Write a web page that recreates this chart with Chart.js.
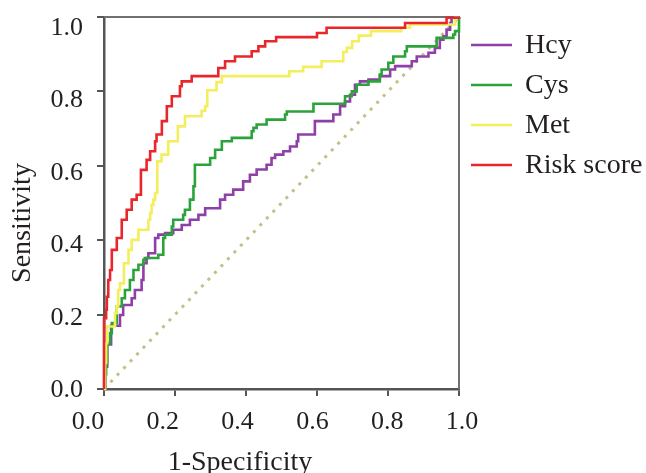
<!DOCTYPE html>
<html>
<head>
<meta charset="utf-8">
<script src="https://cdn.jsdelivr.net/npm/chart.js@4.4.0/dist/chart.umd.min.js"></script>
<style>
  html, body { margin: 0; padding: 0; background: #fff; }
  #wrap { position: relative; width: 646px; height: 473px; }
</style>
</head>
<body>
<div id="wrap"><canvas id="rocChart"></canvas></div>
<script>
// tick values / labels for both axes
var tickValues = [0, 0.2, 0.4, 0.6, 0.8, 1.0];
var tickLabels = ['0.0', '0.2', '0.4', '0.6', '0.8', '1.0'];
var seriesNames = ['Hcy', 'Cys', 'Met', 'Risk score'];

// 1-Specificity (x) and Sensitivity (y)
var hcyX = [0, 0.004, 0.009, 0.02, 0.045, 0.054, 0.078, 0.087, 0.106, 0.111, 0.12, 0.125, 0.144, 0.153, 0.172, 0.195, 0.219, 0.242, 0.266, 0.285, 0.327, 0.341, 0.364, 0.392, 0.411, 0.43, 0.458, 0.472, 0.482, 0.505, 0.524, 0.543, 0.547, 0.594, 0.646, 0.665, 0.679, 0.693, 0.707, 0.721, 0.745, 0.777, 0.806, 0.82, 0.867, 0.881, 0.914, 0.932, 0.946, 0.956, 0.965, 0.975, 0.979, 1];
var hcyY = [0, 0.06, 0.12, 0.17, 0.199, 0.226, 0.244, 0.266, 0.293, 0.338, 0.352, 0.365, 0.406, 0.415, 0.419, 0.428, 0.441, 0.455, 0.468, 0.486, 0.509, 0.522, 0.536, 0.558, 0.576, 0.59, 0.603, 0.621, 0.63, 0.639, 0.652, 0.666, 0.684, 0.72, 0.738, 0.76, 0.773, 0.791, 0.818, 0.827, 0.832, 0.841, 0.859, 0.868, 0.881, 0.894, 0.904, 0.917, 0.939, 0.948, 0.966, 0.984, 0.998, 1];

var cysX = [0, 0.003, 0.006, 0.009, 0.017, 0.022, 0.036, 0.05, 0.059, 0.073, 0.083, 0.097, 0.111, 0.115, 0.153, 0.167, 0.172, 0.191, 0.195, 0.223, 0.228, 0.242, 0.252, 0.256, 0.299, 0.313, 0.332, 0.36, 0.416, 0.421, 0.43, 0.458, 0.51, 0.515, 0.59, 0.679, 0.698, 0.712, 0.745, 0.777, 0.782, 0.801, 0.815, 0.848, 0.853, 0.937, 0.984, 0.989, 1, 1];
var cysY = [0, 0.04, 0.069, 0.123, 0.15, 0.177, 0.222, 0.244, 0.266, 0.293, 0.32, 0.334, 0.347, 0.352, 0.361, 0.406, 0.415, 0.437, 0.455, 0.468, 0.482, 0.509, 0.545, 0.603, 0.621, 0.643, 0.666, 0.675, 0.693, 0.702, 0.711, 0.724, 0.738, 0.746, 0.767, 0.787, 0.8, 0.818, 0.827, 0.845, 0.859, 0.877, 0.894, 0.908, 0.921, 0.944, 0.953, 0.962, 0.97, 1];

var metX = [0, 0.003, 0.006, 0.009, 0.031, 0.036, 0.04, 0.045, 0.056, 0.069, 0.078, 0.097, 0.125, 0.13, 0.134, 0.139, 0.144, 0.15, 0.162, 0.181, 0.208, 0.228, 0.275, 0.285, 0.291, 0.317, 0.332, 0.522, 0.561, 0.613, 0.674, 0.684, 0.699, 0.718, 0.752, 0.837, 0.862, 0.989, 1];
var metY = [0, 0.07, 0.123, 0.168, 0.204, 0.222, 0.266, 0.284, 0.338, 0.374, 0.401, 0.428, 0.455, 0.473, 0.495, 0.509, 0.527, 0.612, 0.63, 0.666, 0.706, 0.733, 0.748, 0.76, 0.803, 0.825, 0.841, 0.854, 0.866, 0.881, 0.906, 0.917, 0.935, 0.95, 0.962, 0.971, 0.98, 0.998, 1];

var riskX = [0, 0, 0.006, 0.008, 0.012, 0.017, 0.022, 0.036, 0.05, 0.064, 0.078, 0.092, 0.104, 0.12, 0.13, 0.144, 0.148, 0.163, 0.177, 0.191, 0.214, 0.219, 0.247, 0.322, 0.341, 0.369, 0.416, 0.435, 0.454, 0.485, 0.6, 0.627, 0.848, 0.965, 1];
var riskY = [0, 0.19, 0.213, 0.248, 0.293, 0.32, 0.374, 0.406, 0.455, 0.482, 0.509, 0.522, 0.589, 0.616, 0.639, 0.666, 0.684, 0.72, 0.76, 0.787, 0.814, 0.827, 0.841, 0.863, 0.881, 0.894, 0.908, 0.921, 0.935, 0.946, 0.957, 0.971, 0.984, 0.998, 1];

var refLine = [0, 1];

var colors = ['#8e3fa8', '#2ba33b', '#f3ef5c', '#e8262c'];
var textColor = '#231f20';
var serif = 'Liberation Serif';

function toPoints(xs, ys) {
  return xs.map(function (x, i) { return { x: x, y: ys[i] }; });
}

function rocSet(i, xs, ys) {
  return {
    label: seriesNames[i],
    data: toPoints(xs, ys),
    borderColor: colors[i],
    borderWidth: 2.6,
    pointRadius: 0,
    stepped: true,
    fill: false,
    clip: 4,
    order: 4 - i
  };
}

// top/right frame, axis titles, legend
var extras = {
  id: 'extras',
  beforeDatasetsDraw: function (chart) {
    var a = chart.chartArea, ctx = chart.ctx;
    ctx.save();
    ctx.strokeStyle = '#707070';
    ctx.lineWidth = 2;
    ctx.beginPath();
    ctx.moveTo(a.left, a.top);
    ctx.lineTo(a.right, a.top);
    ctx.lineTo(a.right, a.bottom);
    ctx.stroke();
    ctx.restore();
  },
  afterDraw: function (chart) {
    var ctx = chart.ctx;
    ctx.save();
    ctx.fillStyle = textColor;
    ctx.font = '28px "' + serif + '"';
    ctx.textAlign = 'center';
    ctx.textBaseline = 'alphabetic';
    ctx.fillText('1-Specificity', 240, 470);

    ctx.save();
    ctx.translate(23, 223);
    ctx.rotate(-Math.PI / 2);
    ctx.textBaseline = 'middle';
    ctx.fillText('Sensitivity', 0, 0);
    ctx.restore();

    // legend
    ctx.textAlign = 'left';
    ctx.textBaseline = 'middle';
    for (var i = 0; i < seriesNames.length; i++) {
      var y = 45 + i * 40;
      ctx.strokeStyle = colors[i];
      ctx.lineWidth = 2.5;
      ctx.beginPath();
      ctx.moveTo(471, y);
      ctx.lineTo(512, y);
      ctx.stroke();
      ctx.fillStyle = textColor;
      ctx.fillText(seriesNames[i], 525, y + 1);
    }
    ctx.restore();
  }
};

function setTicks(scale) {
  scale.ticks = tickValues.map(function (v) { return { value: v }; });
}

function noPad(s) {
  s.paddingTop = 0; s.paddingBottom = 0; s.paddingLeft = 0; s.paddingRight = 0;
}

var axisGrid = { drawOnChartArea: false, drawTicks: true, tickLength: 7, color: '#555', lineWidth: 2 };

var ctx = document.getElementById('rocChart').getContext('2d');
var chart = new Chart(ctx, {
  type: 'line',
  data: {
    datasets: [
      rocSet(0, hcyX, hcyY),
      rocSet(1, cysX, cysY),
      rocSet(2, metX, metY),
      rocSet(3, riskX, riskY),
      {
        label: 'ref',
        data: toPoints(refLine, refLine),
        borderColor: '#c4bf82',
        borderWidth: 3,
        borderDash: [3, 6.4],
        pointRadius: 0,
        order: 5
      }
    ]
  },
  options: {
    responsive: true,
    maintainAspectRatio: false,
    animation: false,
    layout: { padding: { top: 17, right: 187, left: 0, bottom: 0 } },
    plugins: { legend: { display: false }, tooltip: { enabled: false } },
    scales: {
      x: {
        type: 'linear',
        position: 'bottom',
        weight: 0,
        min: 0,
        max: 1,
        afterBuildTicks: setTicks,
        afterFit: function (s) { s.height = 8; noPad(s); },
        border: { color: '#555', width: 2.5 },
        grid: axisGrid,
        ticks: { padding: 0, callback: function () { return ''; } }
      },
      // label row for the x axis (labels sit a little wider than the tick marks)
      xl: {
        type: 'linear',
        position: 'bottom',
        weight: 1,
        min: 0.0428,
        max: 0.992,
        afterBuildTicks: setTicks,
        afterFit: function (s) { s.height = 76; noPad(s); },
        border: { display: false },
        grid: { display: false, drawTicks: false },
        ticks: {
          autoSkip: false,
          maxRotation: 0,
          padding: 10,
          color: textColor,
          font: { family: serif, size: 26 },
          callback: function (v, i) { return tickLabels[i]; }
        }
      },
      y: {
        type: 'linear',
        position: 'left',
        weight: 0,
        min: 0,
        max: 1,
        afterBuildTicks: setTicks,
        afterFit: function (s) { s.width = 7; noPad(s); },
        border: { color: '#555', width: 2.5 },
        grid: axisGrid,
        ticks: { padding: 0, callback: function () { return ''; } }
      },
      // label column for the y axis
      yl: {
        type: 'linear',
        position: 'left',
        weight: 1,
        min: 0.0039,
        max: 1.0304,
        afterBuildTicks: setTicks,
        afterFit: function (s) { s.width = 97; noPad(s); },
        border: { display: false },
        grid: { display: false, drawTicks: false },
        ticks: {
          autoSkip: false,
          padding: 14,
          color: textColor,
          font: { family: serif, size: 26 },
          callback: function (v, i) { return tickLabels[i]; }
        }
      }
    }
  },
  plugins: [extras]
});
</script>
</body>
</html>
